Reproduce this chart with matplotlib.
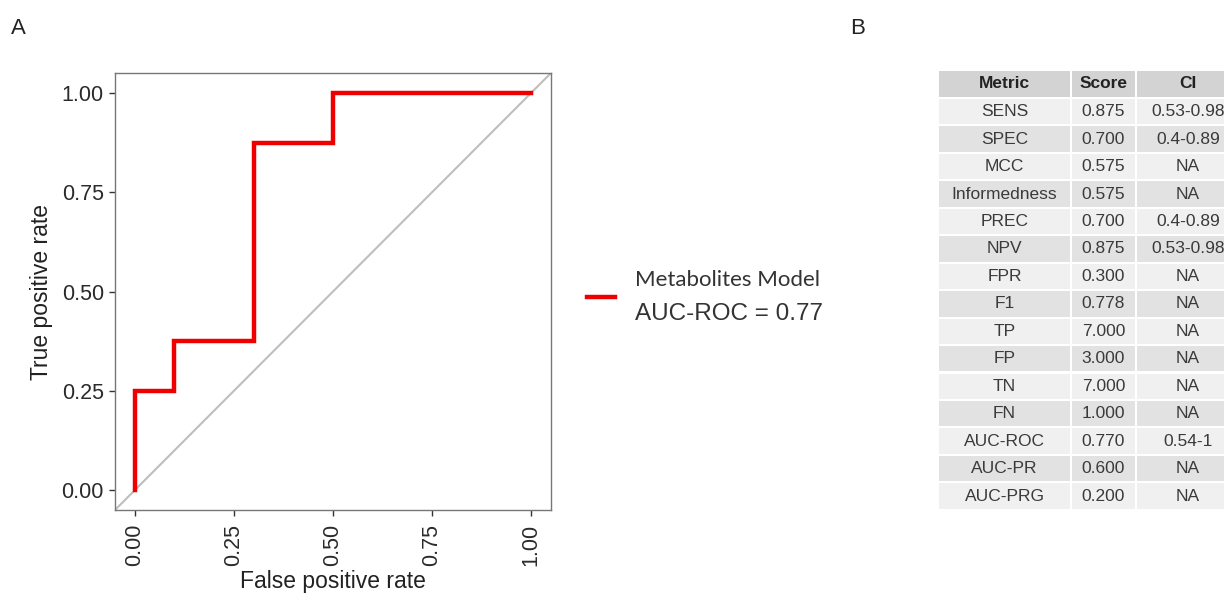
import matplotlib.pyplot as plt
from matplotlib.patches import Rectangle

# ROC curve coordinates (step function)
fpr = [0.0, 0.0, 0.1, 0.1, 0.3, 0.3, 0.5, 0.5, 1.0]
tpr = [0.0, 0.25, 0.25, 0.375, 0.375, 0.875, 0.875, 1.0, 1.0]
auc_roc = 0.77
model_name = 'Metabolites Model'

# metrics table
metrics = ['SENS', 'SPEC', 'MCC', 'Informedness', 'PREC', 'NPV', 'FPR', 'F1',
           'TP', 'FP', 'TN', 'FN', 'AUC-ROC', 'AUC-PR', 'AUC-PRG']
scores = [0.875, 0.700, 0.575, 0.575, 0.700, 0.875, 0.300, 0.778,
          7.000, 3.000, 7.000, 1.000, 0.770, 0.600, 0.200]
cis = ['0.53-0.98', '0.4-0.89', 'NA', 'NA', '0.4-0.89', '0.53-0.98', 'NA', 'NA',
       'NA', 'NA', 'NA', 'NA', '0.54-1', 'NA', 'NA']
header = ['Metric', 'Score', 'CI']

plt.rcParams['font.family'] = ['Liberation Sans', 'DejaVu Sans']

W, H = 1224, 596
fig = plt.figure(figsize=(W / 100, H / 100), dpi=100)

def fx(px):
    return px / W

def fy(py):
    return 1 - py / H

# ---- panel A: ROC curve ----
ax = fig.add_axes([fx(115), fy(510), fx(551) - fx(115), fy(73) - fy(510)])
ax.set_xlim(-0.05, 1.05)
ax.set_ylim(-0.05, 1.05)
ax.plot([-0.05, 1.05], [-0.05, 1.05], color='#bebebe', lw=1.5, zorder=1)
ax.plot(fpr, tpr, color='#ee0000', lw=3.2, solid_joinstyle='miter', zorder=2)
ticks = [0, 0.25, 0.5, 0.75, 1.0]
ax.set_xticks(ticks)
ax.set_yticks(ticks)
ax.set_xticklabels(['%.2f' % t for t in ticks], rotation=90, fontsize=15.5, color='#2a2a2a')
ax.set_yticklabels(['%.2f' % t for t in ticks], fontsize=15.5, color='#2a2a2a')
ax.tick_params(length=4, width=1, color='#333333')
ax.tick_params(axis='x', pad=6)
ax.tick_params(axis='y', pad=4)
for s in ax.spines.values():
    s.set_color('#777777')
    s.set_linewidth(1)
ax.set_xlabel('False positive rate', fontsize=16.5, labelpad=3, color='#222222')
ax.set_ylabel('True positive rate', fontsize=16.5, labelpad=6, color='#222222')

# legend drawn by hand
fig.add_artist(plt.Line2D([fx(587), fx(615)], [fy(297), fy(297)], color='#ee0000', lw=3.2))
fig.text(fx(635), fy(280), model_name, fontsize=16, family=['Lato', 'DejaVu Sans'],
         color='#333333', va='center', ha='left')
fig.text(fx(635), fy(314), 'AUC-ROC = %.2f' % auc_roc, fontsize=17.5,
         color='#333333', va='center', ha='left')

# panel letters
fig.text(fx(11), fy(29), 'A', fontsize=16, va='center', ha='left', color='#222222')
fig.text(fx(850), fy(29), 'B', fontsize=16, va='center', ha='left', color='#222222')

# ---- panel B: metrics table ----
tab = fig.add_axes([0, 0, 1, 1])
tab.set_xlim(0, W)
tab.set_ylim(H, 0)
tab.axis('off')
col_edges = [938, 1071, 1136, 1240]
header_top, header_bot = 70, 98
row_h = 27.45
gap = 2

def cell(x0, x1, y0, y1, color):
    tab.add_patch(Rectangle((x0 + gap / 2, y0 + gap / 2), x1 - x0 - gap, y1 - y0 - gap,
                            facecolor=color, edgecolor='none'))

for j, name in enumerate(header):
    x0, x1 = col_edges[j], col_edges[j + 1]
    cell(x0, x1, header_top, header_bot, '#d3d3d3')
    tab.text((x0 + x1) / 2, (header_top + header_bot) / 2, name, fontsize=12.5,
             fontweight='bold', ha='center', va='center', color='#222222')

for i in range(len(metrics)):
    y0 = header_bot + i * row_h
    y1 = y0 + row_h
    color = '#f0f0f0' if i % 2 == 0 else '#e2e2e2'
    vals = [metrics[i], '%.3f' % scores[i], cis[i]]
    for j, v in enumerate(vals):
        x0, x1 = col_edges[j], col_edges[j + 1]
        cell(x0, x1, y0, y1, color)
        tab.text((x0 + x1) / 2, (y0 + y1) / 2, v, fontsize=12.5, ha='center',
                 va='center', color='#3a3a3a')

fig.savefig('out.png', dpi=100)
